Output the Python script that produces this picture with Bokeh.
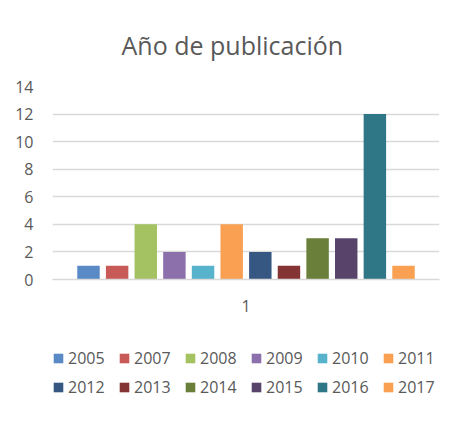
from bokeh.plotting import figure
from bokeh.layouts import column
from bokeh.models import (ColumnDataSource, Range1d, SingleIntervalTicker,
                          Legend, LegendItem, FactorRange)
from bokeh.transform import dodge
from bokeh.embed import file_html
from bokeh.resources import INLINE

# datos del gráfico
years = ["2005", "2007", "2008", "2009", "2010", "2011",
         "2012", "2013", "2014", "2015", "2016", "2017"]
counts = [1, 1, 4, 2, 1, 4, 2, 1, 3, 3, 12, 1]
category = ["1"]
colors = ["#5A8AC6", "#C85A57", "#A5C263", "#8C70AB", "#57B3CC", "#F9A052",
          "#355782", "#843434", "#6A7F39", "#58446B", "#2F7686", "#F9A052"]

FONT = "Open Sans"
GREY = "#595959"
GRID = "#D9D9D9"

p = figure(frame_width=387, frame_height=193,
           x_range=FactorRange(factors=category),
           y_range=Range1d(0, 14), output_backend="svg",
           toolbar_location=None, title="Año de publicación",
           min_border_left=52, min_border_right=20,
           min_border_top=86, min_border_bottom=40)
p.x_range.range_padding = 0
p.outline_line_color = None

# título
p.title.align = "left"
p.title.offset = 69
p.title.standoff = 50
p.title.text_font = FONT
p.title.text_font_size = "25px"
p.title.text_font_style = "normal"
p.title.text_color = GREY

# ejes
p.yaxis.ticker = SingleIntervalTicker(interval=2)
p.yaxis.axis_line_color = None
p.yaxis.major_tick_line_color = None
p.yaxis.minor_tick_line_color = None
p.yaxis.major_label_standoff = 13
p.yaxis.major_label_text_font = FONT
p.yaxis.major_label_text_font_size = "16px"
p.yaxis.major_label_text_color = GREY

p.xaxis.axis_line_color = GRID
p.xaxis.axis_line_width = 1.5
p.xaxis.major_tick_line_color = None
p.xaxis.major_label_standoff = 14
p.xaxis.major_label_text_font = FONT
p.xaxis.major_label_text_font_size = "16px"
p.xaxis.major_label_text_color = GREY

p.xgrid.grid_line_color = None
p.ygrid.grid_line_color = GRID
p.ygrid.grid_line_width = 1.5

# figura aparte para la leyenda, debajo del gráfico
pl = figure(width=459, height=95, output_backend="svg",
            x_range=Range1d(0, 1), y_range=Range1d(0, 1),
            toolbar_location=None, x_axis_location=None,
            y_axis_location=None, min_border=0)
pl.outline_line_color = None
pl.grid.grid_line_color = None

# barras
step = 0.074
items = []
for i, (yr, n, c) in enumerate(zip(years, counts, colors)):
    src = ColumnDataSource(dict(cat=category, top=[n]))
    xpos = dodge("cat", (i - 5.5) * step, range=p.x_range)
    p.vbar(x=xpos, top="top", width=0.058, source=src,
           fill_color=c, line_color=None)
    # copia oculta, solo para la muestra de la leyenda
    r = pl.vbar(x=xpos, top="top", width=0.058, source=src,
                fill_color=c, line_color=None, visible=False)
    items.append(LegendItem(label=yr, renderers=[r]))

for row, y in [(items[:6], 45), (items[6:], 16)]:
    legend = Legend(items=row, orientation="horizontal", location=(0, y),
                    glyph_width=12, glyph_height=12, label_standoff=4,
                    label_width=41, label_height=16, spacing=9,
                    padding=0, margin=0, border_line_color=None,
                    background_fill_alpha=0, inactive_fill_alpha=0,
                    label_text_font=FONT, label_text_font_size="16px",
                    label_text_color=GREY)
    pl.add_layout(legend)

open("out.html", "w").write(file_html(column(p, pl), INLINE))
